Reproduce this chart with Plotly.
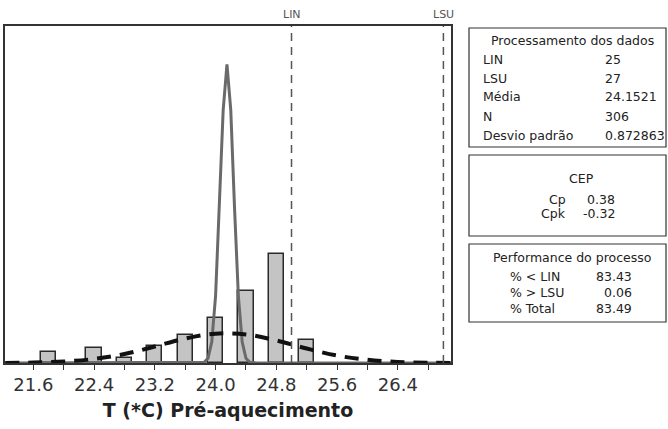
import plotly.graph_objects as go

# Histogram bins (centers) and counts
bin_centers = [21.8, 22.4, 22.8, 23.2, 23.6, 24.0, 24.4, 24.8, 25.2]
bin_counts = [10, 14, 5, 16, 26, 42, 68, 103, 22]

# Overall fitted curve (dashed)
overall_x = [21.23, 21.6, 22.0, 22.4, 22.8, 23.2, 23.6, 24.0, 24.4, 24.8, 25.2, 25.6, 26.0, 26.4, 26.8, 27.1]
overall_y = [0.1, 0.4, 1.4, 3.8, 8.4, 15.5, 23.0, 27.6, 26.9, 21.2, 13.6, 7.0, 3.0, 1.0, 0.3, 0.1]

# Within curve (solid gray)
within_x = [21.23, 23.75, 23.80, 23.85, 23.90, 23.95, 24.00, 24.05, 24.10, 24.15,
            24.20, 24.25, 24.30, 24.35, 24.40, 24.45, 24.50, 24.55, 27.1]
within_y = [0, 0, 0.1, 0.7, 4.5, 20, 63, 145, 238, 281, 238, 145, 63, 20, 4.5, 0.7, 0.1, 0, 0]

LIN = 25
LSU = 27

tick_vals = [21.6, 22.0, 22.4, 22.8, 23.2, 23.6, 24.0, 24.4, 24.8, 25.2, 25.6, 26.0, 26.4, 26.8]
tick_text = ["21.6", "", "22.4", "", "23.2", "", "24.0", "", "24.8", "", "25.6", "", "26.4", ""]

box1_labels = ["LIN", "LSU", "Média", "N", "Desvio padrão"]
box1_values = ["25", "27", "24.1521", "306", "0.872863"]
box2_labels = ["Cp", "Cpk"]
box2_values = ["0.38", "-0.32"]
box3_labels = ["% < LIN", "% > LSU", "% Total"]
box3_values = ["83.43", "0.06", "83.49"]

FONT = "DejaVu Sans"
W, H = 668, 429
L, R, T, B = 5, 217, 26, 66
PW = W - L - R
PH = H - T - B

fig = go.Figure()
fig.add_trace(go.Bar(x=bin_centers, y=bin_counts, width=0.2,
                     marker=dict(color="#c4c4c4", line=dict(color="#2a2a2a", width=1.5)),
                     showlegend=False))
fig.add_trace(go.Scatter(x=within_x, y=within_y, mode="lines",
                         line=dict(color="#6a6a6a", width=3), showlegend=False))
fig.add_trace(go.Scatter(x=overall_x, y=overall_y, mode="lines",
                         line=dict(color="#111111", width=4, dash="14px,9px", shape="spline"),
                         showlegend=False))

for v, name in [(LIN, "LIN"), (LSU, "LSU")]:
    fig.add_shape(type="line", xref="x", yref="paper", x0=v, x1=v, y0=0, y1=1,
                  line=dict(color="#555555", width=1.5, dash="8px,6px"))
    fig.add_annotation(x=v, xref="x", y=1, yref="paper", yshift=3, text=name,
                       showarrow=False, yanchor="bottom",
                       font=dict(family=FONT, size=11, color="#555555"))

def px(x):
    return (x - L) / PW

def py(y):
    return (H - B - y) / PH

def add_box(x0, y0, x1, y1):
    fig.add_shape(type="rect", xref="paper", yref="paper",
                  x0=px(x0), y0=py(y1), x1=px(x1), y1=py(y0),
                  line=dict(color="#333333", width=1.2), fillcolor="white")

def add_text(x, y, text, anchor="left", size=12.5):
    fig.add_annotation(x=px(x), y=py(y), xref="paper", yref="paper", text=text,
                       showarrow=False, xanchor=anchor, yanchor="middle",
                       font=dict(family=FONT, size=size, color="#222222"))

# Box 1
add_box(469, 28, 666, 147)
add_text(572, 40, "Processamento dos dados", "center")
for i, (lab, val) in enumerate(zip(box1_labels, box1_values)):
    y = 59 + i * 19
    add_text(481, y, lab)
    add_text(603, y, val)

# Box 2
add_box(469, 155, 666, 236)
add_text(581, 178, "CEP", "center")
for i, (lab, val) in enumerate(zip(box2_labels, box2_values)):
    y = 199 + i * 15
    add_text(568, y, lab, "right")
    add_text(617, y, val, "right")

# Box 3
add_box(469, 244, 666, 322)
add_text(572, 257, "Performance do processo", "center")
for i, (lab, val) in enumerate(zip(box3_labels, box3_values)):
    y = 276 + i * 16
    add_text(508, y, lab)
    add_text(634, y, val, "right")

fig.update_layout(
    width=W, height=H,
    margin=dict(l=L, r=R, t=T, b=B),
    paper_bgcolor="white", plot_bgcolor="white",
    bargap=0,
    xaxis=dict(range=[21.227, 27.1], tickvals=tick_vals, ticktext=tick_text,
               ticks="outside", ticklen=5, tickwidth=1.2, tickcolor="#333333",
               showline=True, linecolor="#333333", linewidth=1.5, mirror=True,
               showgrid=False, zeroline=False,
               tickfont=dict(family=FONT, size=18, color="#333333"),
               title=dict(text="<b>T (*C) Pré-aquecimento</b>", standoff=9,
                          font=dict(family=FONT, size=19, color="#222222"))),
    yaxis=dict(range=[0, 317], showticklabels=False, ticks="",
               showline=True, linecolor="#333333", linewidth=1.5, mirror=True,
               showgrid=False, zeroline=False),
)

fig.write_html("out.html")
